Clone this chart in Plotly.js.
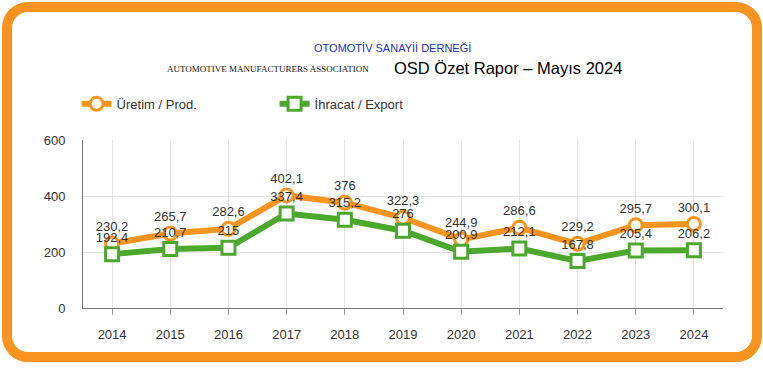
<!DOCTYPE html>
<html><head><meta charset="utf-8">
<script src="https://cdn.plot.ly/plotly-3.0.1.min.js"></script>
<style>
html,body{margin:0;padding:0;background:#fff;}
#frame{position:absolute;left:2px;top:2px;width:760px;height:360px;box-sizing:border-box;border:10px solid #f7931e;border-radius:26px;}
#chart{position:absolute;left:0;top:0;width:763px;height:369px;}
</style></head>
<body>
<div id="frame"></div>
<div id="chart"></div>
<script>
const years = ['2014','2015','2016','2017','2018','2019','2020','2021','2022','2023','2024'];
const production = [230.2,265.7,282.6,402.1,376,322.3,244.9,286.6,229.2,295.7,300.1];
const exportsV = [192.4,210.7,215,337.4,315.2,276,200.9,212.1,167.8,205.4,206.2];
const prodLabels = ['230,2','265,7','282,6','402,1','376','322,3','244,9','286,6','229,2','295,7','300,1'];
const expLabels = ['192,4','210,7','215','337,4','315,2','276','200,9','212,1','167,8','205,4','206,2'];

const orange = '#f7941d', green = '#4ba82c';
const traces = [
  {x: years, y: production, name: 'Üretim / Prod.', type: 'scatter', mode: 'lines+markers+text',
   text: prodLabels, textposition: 'top center', textfont: {size: 13, color: '#333', family: 'Liberation Sans, Arial, sans-serif'},
   line: {color: orange, width: 6}, marker: {symbol: 'circle', size: 13, color: '#fff', line: {color: orange, width: 3}}, cliponaxis: false},
  {x: years, y: exportsV, name: 'İhracat / Export', type: 'scatter', mode: 'lines+markers+text',
   text: expLabels, textposition: 'top center', textfont: {size: 13, color: '#333', family: 'Liberation Sans, Arial, sans-serif'},
   line: {color: green, width: 6}, marker: {symbol: 'square', size: 13, color: '#fff', line: {color: green, width: 3}}, cliponaxis: false}
];
const layout = {
  width: 763, height: 369,
  paper_bgcolor: 'rgba(0,0,0,0)', plot_bgcolor: 'rgba(0,0,0,0)',
  margin: {l: 83, r: 40, t: 140, b: 61},
  font: {family: 'Liberation Sans, Arial, sans-serif', color: '#333', size: 13},
  showlegend: true,
  legend: {orientation: 'h', x: -0.01, y: 1.215, xanchor: 'left', yanchor: 'middle',
    itemwidth: 30, entrywidth: 153, entrywidthmode: 'pixels', font: {size: 13, color: '#333'}, bgcolor: 'rgba(0,0,0,0)'},
  xaxis: {type: 'category', range: [-0.5, 10.5], showgrid: true, gridcolor: '#e3e3e3', showline: true, linecolor: '#777', linewidth: 1,
    ticks: 'outside', ticklen: 6, tickcolor: '#999', ticklabelstandoff: 8, tickfont: {size: 13, color: '#333'}, fixedrange: true, zeroline: false},
  yaxis: {range: [0, 600], tickvals: [0, 200, 400, 600], showgrid: true, gridcolor: '#e3e3e3', showline: true, linecolor: '#777', linewidth: 1,
    ticks: '', ticklabelstandoff: 14, tickfont: {size: 13, color: '#333'}, zeroline: false, fixedrange: true},
  annotations: [
    {text: 'OTOMOTİV SANAYİİ DERNEĞİ', xref: 'paper', yref: 'paper', x: (392 - 83) / 640, y: (369 - 61 - 48) / 168, xanchor: 'center', yanchor: 'middle', showarrow: false,
     font: {family: 'Liberation Sans Narrow, Arial Narrow, Liberation Sans, sans-serif', size: 11, color: '#1f2fbf'}},
    {text: 'AUTOMOTIVE MANUFACTURERS ASSOCIATION', xref: 'paper', yref: 'paper', x: (165 - 83) / 640, y: (369 - 61 - 69) / 168, xanchor: 'left', yanchor: 'middle', showarrow: false,
     font: {family: 'Liberation Serif, Times New Roman, serif', size: 9, color: '#111'}},
    {text: 'OSD Özet Rapor – Mayıs 2024', xref: 'paper', yref: 'paper', x: (392 - 83) / 640, y: (369 - 61 - 68) / 168, xanchor: 'left', yanchor: 'middle', showarrow: false,
     font: {family: 'Liberation Sans, Arial, sans-serif', size: 16.5, color: '#000'}}
  ]
};
Plotly.newPlot('chart', traces, layout, {displayModeBar: false, staticPlot: true});
</script>
</body></html>
